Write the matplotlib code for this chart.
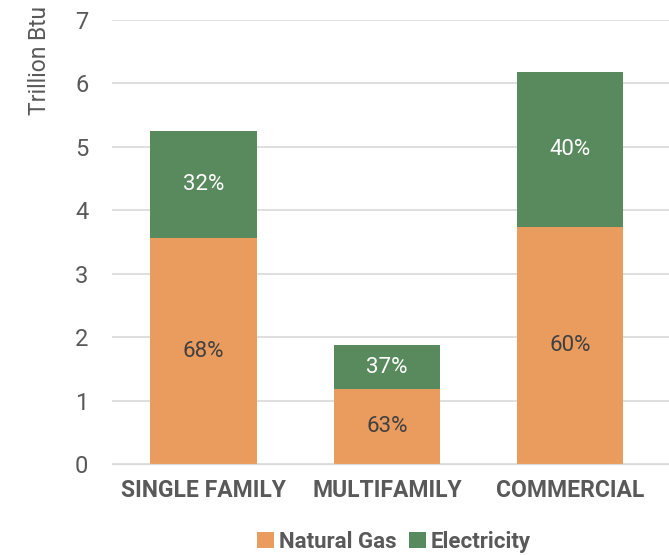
import matplotlib.pyplot as plt
import numpy as np

plt.rcParams['font.family'] = ['Roboto', 'DejaVu Sans']

categories = ["SINGLE FAMILY", "MULTIFAMILY", "COMMERCIAL"]
natural_gas = [3.56, 1.18, 3.73]
electricity = [1.69, 0.69, 2.45]
gas_pct = ["68%", "63%", "60%"]
elec_pct = ["32%", "37%", "40%"]

gas_color = "#E99C5E"
elec_color = "#588A5E"
grey = "#595959"

fig = plt.figure(figsize=(6.69, 5.55), dpi=100)
ax = fig.add_axes([112/669, 1 - 464/555, 1 - 112/669, 444/555])

x = np.arange(len(categories))
b1 = ax.bar(x, natural_gas, width=0.58, color=gas_color, label="Natural Gas", zorder=2)
b2 = ax.bar(x, electricity, width=0.58, bottom=natural_gas, color=elec_color, label="Electricity", zorder=2)

for i in range(len(x)):
    ax.text(x[i], natural_gas[i] / 2, gas_pct[i], ha="center", va="center",
            color="#404040", fontsize=16)
    ax.text(x[i], natural_gas[i] + electricity[i] / 2, elec_pct[i], ha="center", va="center",
            color="white", fontsize=16)

ax.set_ylim(0, 7)
ax.set_xlim(-0.5, 2.54)
ax.set_yticks(range(0, 8))
ax.yaxis.grid(True, color="#D9D9D9", linewidth=1.2, zorder=0)
ax.set_axisbelow(True)
for s in ax.spines.values():
    s.set_visible(False)
ax.spines["bottom"].set_visible(True)
ax.spines["bottom"].set_color("#D9D9D9")
ax.tick_params(axis="both", length=0, colors=grey, labelsize=17)
ax.tick_params(axis="y", pad=17)
ax.tick_params(axis="x", pad=11)
ax.set_xticks(x)
ax.set_xticklabels(categories, fontweight="bold", fontsize=16.5)

fig.text(40/669, 1 - 6/555, "Trillion Btu", rotation=90, ha="center", va="top",
         color=grey, fontsize=16.5)

leg = fig.legend(handles=[b1, b2], loc="center", bbox_to_anchor=(394/669, 1 - 542/555),
                 ncol=2, frameon=False, handlelength=0.75, handleheight=0.75,
                 handletextpad=0.2, columnspacing=0.6,
                 prop={"weight": "bold", "size": 16})
for t in leg.get_texts():
    t.set_color(grey)

fig.savefig("out.png", dpi=100)
